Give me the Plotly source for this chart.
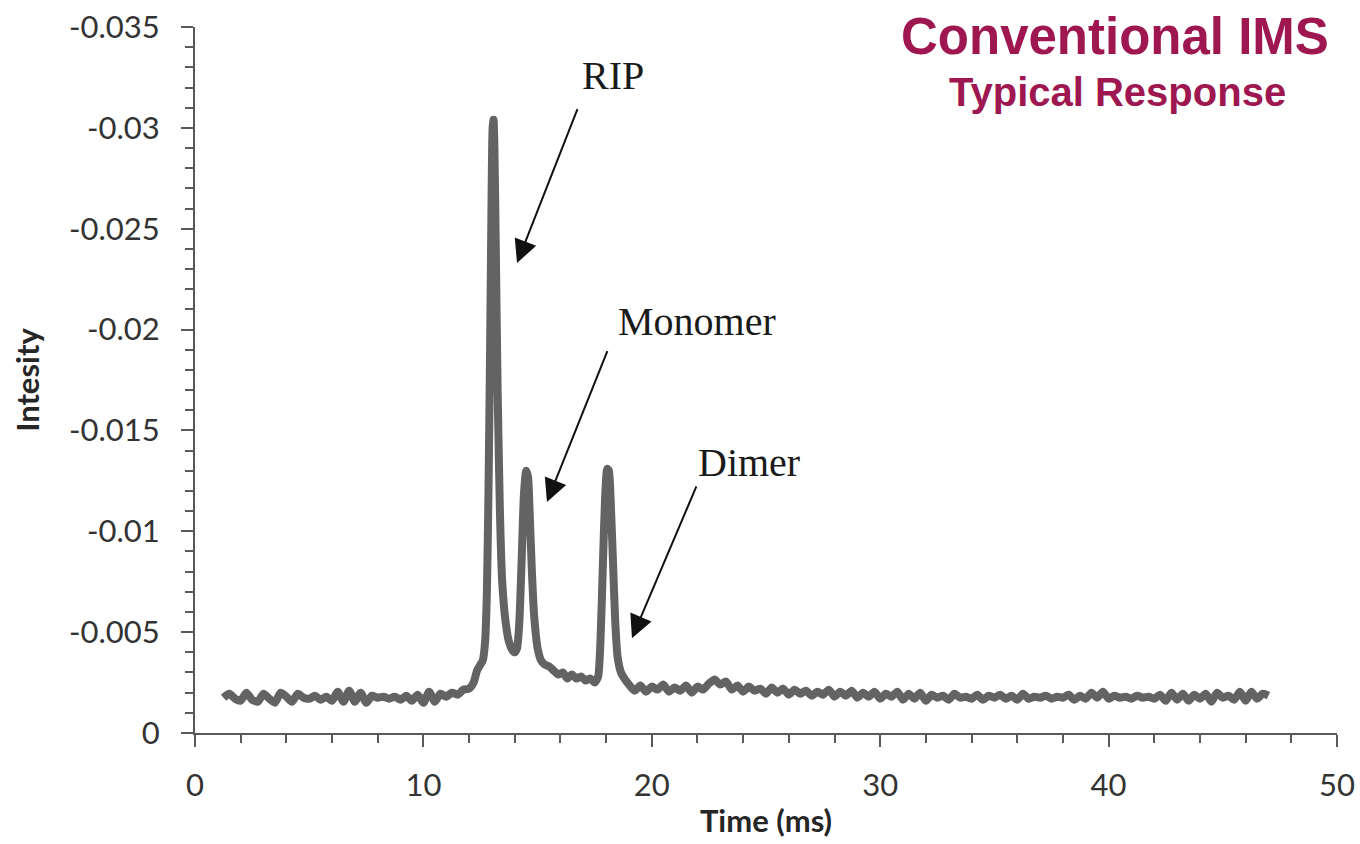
import plotly.graph_objects as go

# Time axis (ms)
time_ms = [
    1.25, 1.5, 1.75, 2.0, 2.25, 2.5, 2.75, 3.0, 3.25, 3.5, 3.75, 4.0, 4.25, 4.5, 4.75,
    5.0, 5.25, 5.5, 5.75, 6.0, 6.25, 6.5, 6.75, 7.0, 7.25, 7.5, 7.75, 8.0, 8.25, 8.5,
    8.75, 9.0, 9.25, 9.5, 9.75, 10.0, 10.25, 10.5, 10.75, 11.0, 11.25, 11.5, 11.75,
    12.0, 12.2, 12.35, 12.5, 12.6, 12.7, 12.78, 12.85, 12.92, 12.98, 13.03, 13.07,
    13.11, 13.17, 13.25, 13.35, 13.45, 13.6, 13.75, 13.9, 14.0, 14.1, 14.2, 14.3,
    14.4, 14.5, 14.58, 14.65, 14.75, 14.85, 15.0, 15.15, 15.3, 15.5, 15.7, 15.9,
    16.1, 16.3, 16.5, 16.7, 16.9, 17.1, 17.3, 17.5, 17.65, 17.75, 17.85, 17.95,
    18.05, 18.12, 18.2, 18.3, 18.4, 18.5, 18.65, 18.8, 19.0,
    19.25, 19.5, 19.75, 20.0, 20.25, 20.5, 20.75, 21.0, 21.25, 21.5, 21.75, 22.0,
    22.25, 22.5, 22.75, 23.0, 23.25, 23.5, 23.75, 24.0, 24.25, 24.5, 24.75, 25.0,
    25.25, 25.5, 25.75, 26.0, 26.25, 26.5, 26.75, 27.0, 27.25, 27.5, 27.75, 28.0,
    28.25, 28.5, 28.75, 29.0, 29.25, 29.5, 29.75, 30.0, 30.25, 30.5, 30.75, 31.0,
    31.25, 31.5, 31.75, 32.0, 32.25, 32.5, 32.75, 33.0, 33.25, 33.5, 33.75, 34.0,
    34.25, 34.5, 34.75, 35.0, 35.25, 35.5, 35.75, 36.0, 36.25, 36.5, 36.75, 37.0,
    37.25, 37.5, 37.75, 38.0, 38.25, 38.5, 38.75, 39.0, 39.25, 39.5, 39.75, 40.0,
    40.25, 40.5, 40.75, 41.0, 41.25, 41.5, 41.75, 42.0, 42.25, 42.5, 42.75, 43.0,
    43.25, 43.5, 43.75, 44.0, 44.25, 44.5, 44.75, 45.0, 45.25, 45.5, 45.75, 46.0,
    46.25, 46.5, 46.75, 47.0,
]

# Intensity (negative-going signal)
intensity = [
    -0.00175, -0.00195, -0.00170, -0.00160, -0.00200, -0.00165, -0.00155, -0.00195,
    -0.00170, -0.00150, -0.00200, -0.00180, -0.00155, -0.00195, -0.00175, -0.00170,
    -0.00185, -0.00165, -0.00180, -0.00160, -0.00205, -0.00155, -0.00210, -0.00155,
    -0.00200, -0.00150, -0.00185, -0.00175, -0.00180, -0.00170, -0.00180, -0.00165,
    -0.00185, -0.00160, -0.00190, -0.00150, -0.00205, -0.00155, -0.00195, -0.00180,
    -0.00200, -0.00190, -0.00215,
    -0.00220, -0.00250, -0.00310, -0.00340, -0.00360, -0.00450, -0.00700, -0.01200,
    -0.01900, -0.02600, -0.03000, -0.03040, -0.02900, -0.02400, -0.01700, -0.01100,
    -0.00750, -0.00550, -0.00450, -0.00410, -0.00400, -0.00420, -0.00550, -0.00850,
    -0.01180, -0.01300, -0.01270, -0.01100, -0.00800, -0.00580, -0.00420, -0.00360,
    -0.00340, -0.00330, -0.00310, -0.00290, -0.00300, -0.00270, -0.00290, -0.00270,
    -0.00280, -0.00260, -0.00270, -0.00250, -0.00280, -0.00450, -0.00800, -0.01150,
    -0.01310, -0.01300, -0.01150, -0.00850, -0.00550, -0.00380, -0.00300, -0.00270,
    -0.00240,
    -0.00210, -0.00235, -0.00205, -0.00230, -0.00215, -0.00240, -0.00205, -0.00225,
    -0.00210, -0.00235, -0.00200, -0.00230, -0.00215, -0.00245, -0.00265, -0.00240,
    -0.00255, -0.00215, -0.00235, -0.00205, -0.00230, -0.00210, -0.00220, -0.00195,
    -0.00225, -0.00200, -0.00220, -0.00190, -0.00215, -0.00195, -0.00210, -0.00185,
    -0.00205, -0.00190, -0.00215, -0.00180, -0.00205, -0.00185, -0.00210, -0.00175,
    -0.00200, -0.00180, -0.00205, -0.00170, -0.00195, -0.00180, -0.00205, -0.00165,
    -0.00195, -0.00170, -0.00200, -0.00160, -0.00190, -0.00175, -0.00185, -0.00165,
    -0.00195, -0.00175, -0.00180, -0.00170, -0.00190, -0.00165, -0.00185, -0.00175,
    -0.00190, -0.00170, -0.00185, -0.00165, -0.00195, -0.00170, -0.00180, -0.00175,
    -0.00185, -0.00170, -0.00180, -0.00175, -0.00190, -0.00165, -0.00185, -0.00170,
    -0.00200, -0.00175, -0.00205, -0.00170, -0.00185, -0.00175, -0.00180, -0.00170,
    -0.00185, -0.00175, -0.00180, -0.00170, -0.00190, -0.00160, -0.00200, -0.00165,
    -0.00195, -0.00160, -0.00190, -0.00170, -0.00195, -0.00155, -0.00200, -0.00175,
    -0.00185, -0.00165, -0.00205, -0.00160, -0.00205, -0.00170, -0.00195, -0.00185,
]

x_tick_vals = [0, 10, 20, 30, 40, 50]
x_tick_text = ["0", "10", "20", "30", "40", "50"]
y_tick_vals = [-0.035, -0.03, -0.025, -0.02, -0.015, -0.01, -0.005, 0]
y_tick_text = ["-0.035", "-0.03", "-0.025", "-0.02", "-0.015", "-0.01", "-0.005", "0"]

# Peak labels and their arrows
peak_labels = ["RIP", "Monomer", "Dimer"]
label_x = [18.3, 22.0, 24.25]
label_y = [-0.0326, -0.0204, -0.0134]
tail_x = [16.77, 18.08, 21.98]
tail_y = [-0.0310, -0.0190, -0.0123]
head_x = [14.10, 15.41, 19.13]
head_y = [-0.0233, -0.01145, -0.0047]

axis_color = "#595959"
tick_font = dict(family="Lato, 'Open Sans', sans-serif", size=31, color="#333333")
title_font = dict(family="Lato, 'Open Sans', sans-serif", size=31, color="#262626")

fig = go.Figure()
fig.add_trace(go.Scatter(
    x=time_ms, y=intensity, mode="lines",
    line=dict(color="#636363", width=8, shape="spline", smoothing=0.6),
    showlegend=False, hoverinfo="skip",
))

for lab, lx, ly, tx, ty, hx, hy in zip(peak_labels, label_x, label_y, tail_x, tail_y, head_x, head_y):
    fig.add_annotation(
        x=hx, y=hy, ax=tx, ay=ty, xref="x", yref="y", axref="x", ayref="y",
        text="", showarrow=True, arrowhead=2, arrowsize=2.3, arrowwidth=2,
        arrowcolor="#111111",
    )
    fig.add_annotation(
        x=lx, y=ly, xref="x", yref="y", text=lab, showarrow=False,
        font=dict(family="'Liberation Serif', 'Times New Roman', serif", size=40, color="#1a1a1a"),
    )

fig.add_annotation(
    xref="paper", yref="paper", x=0.995, y=0.986, xanchor="right", yanchor="middle",
    text="<b>Conventional IMS</b>", showarrow=False,
    font=dict(family="'Liberation Sans', Arial, sans-serif", size=51, color="#9E1750"),
)
fig.add_annotation(
    xref="paper", yref="paper", x=0.957, y=0.908, xanchor="right", yanchor="middle",
    text="<b>Typical Response</b>", showarrow=False,
    font=dict(family="'Liberation Sans', Arial, sans-serif", size=40, color="#9E1750"),
)

fig.update_layout(
    width=1360, height=844,
    margin=dict(l=195, r=23, t=27, b=111),
    paper_bgcolor="white", plot_bgcolor="white",
    xaxis=dict(
        range=[0, 50], tickvals=x_tick_vals, ticktext=x_tick_text, automargin=False,
        showgrid=False, zeroline=False, showline=True, linecolor=axis_color, linewidth=2,
        ticks="outside", ticklen=12, tickwidth=2, tickcolor=axis_color,
        minor=dict(dtick=2, ticks="outside", ticklen=8, tickwidth=2, tickcolor=axis_color, showgrid=False),
        tickfont=tick_font, ticklabelstandoff=12,
        title=dict(text="<b>Time (ms)</b>", font=title_font, standoff=8),
    ),
    yaxis=dict(
        range=[0, -0.035], tickvals=y_tick_vals, ticktext=y_tick_text, automargin=False,
        showgrid=False, zeroline=False, showline=True, linecolor=axis_color, linewidth=2,
        ticks="outside", ticklen=12, tickwidth=2, tickcolor=axis_color,
        minor=dict(dtick=0.001, tick0=0, ticks="outside", ticklen=8, tickwidth=2, tickcolor=axis_color, showgrid=False),
        tickfont=tick_font, ticklabelstandoff=15,
        title=dict(text="<b>Intesity</b>", font=title_font, standoff=20),
    ),
)

fig.write_html("out.html")
